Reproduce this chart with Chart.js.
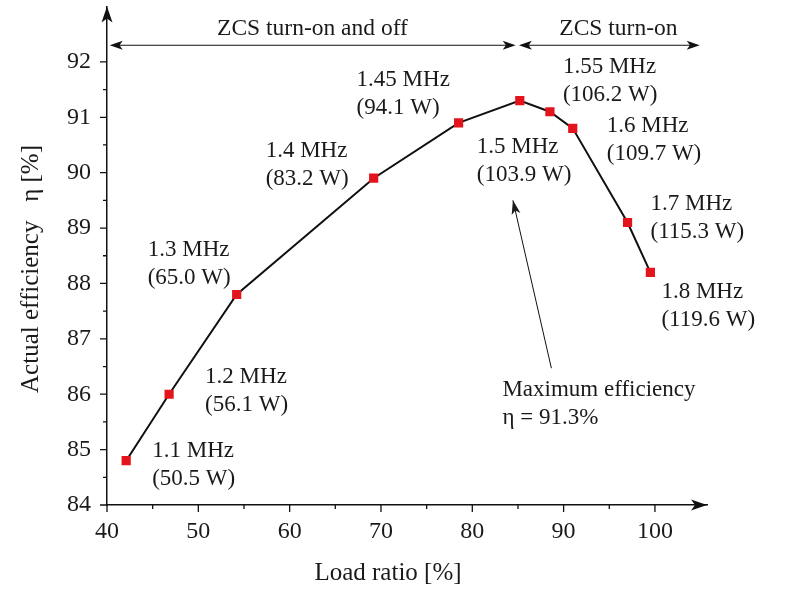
<!DOCTYPE html>
<html>
<head>
<meta charset="utf-8">
<script src="https://cdn.jsdelivr.net/npm/chart.js@4.4.1/dist/chart.umd.min.js"></script>
<style>
  html, body { margin: 0; padding: 0; background: #fff; }
  #wrap { width: 800px; height: 590px; }
</style>
</head>
<body>
<div id="wrap"><canvas id="effChart" width="800" height="590"></canvas></div>
<script>
// values
const loadRatio  = [42.1, 46.8, 54.2, 69.2, 78.5, 85.2, 88.5, 91.0, 97.0, 99.5];
const efficiency = [84.8, 86.0, 87.8, 89.9, 90.9, 91.3, 91.1, 90.8, 89.1, 88.2];
const freqLabels  = ["1.1 MHz", "1.2 MHz", "1.3 MHz", "1.4 MHz", "1.45 MHz", "1.5 MHz", "1.55 MHz", "1.6 MHz", "1.7 MHz", "1.8 MHz"];
const powerLabels = ["(50.5 W)", "(56.1 W)", "(65.0 W)", "(83.2 W)", "(94.1 W)", "(103.9 W)", "(106.2 W)", "(109.7 W)", "(115.3 W)", "(119.6 W)"];
const xTicks = [40, 50, 60, 70, 80, 90, 100];
const yTicks = [84, 85, 86, 87, 88, 89, 90, 91, 92];

// ZCS regions along the top
const zoneNames = ["ZCS turn-on and off", "ZCS turn-on"];
const zoneFrom  = [40.3, 85.1];
const zoneTo    = [84.75, 104.9];
const zoneTextX = [62.5, 96.0];

const maxEffText = ["Maximum efficiency", "\u03b7 = 91.3%"];

const FONT = "'Liberation Serif', 'DejaVu Serif', serif";
const RED = "#e3141b";

// where each point label sits, relative to its marker (px)
const labelOffsets = [[26, -10], [36, -17], [-89, -45], [-108, -27], [-102, -43],
                      [-43, 46], [13, -45], [34, -2], [23, -19], [11, 20]];

function arrowHead(ctx, tipX, tipY, angle, len, half) {
  ctx.save();
  ctx.translate(tipX, tipY);
  ctx.rotate(angle);
  ctx.beginPath();
  ctx.moveTo(0, 0);
  ctx.lineTo(-len, -half);
  ctx.lineTo(-len * 0.75, 0);
  ctx.lineTo(-len, half);
  ctx.closePath();
  ctx.fill();
  ctx.restore();
}

// no extra room around the scales: the layout padding already sets the plot box
function noScalePadding(scale) {
  scale.paddingTop = 0;
  scale.paddingBottom = 0;
  scale.paddingLeft = 0;
  scale.paddingRight = 0;
}

const decorPlugin = {
  id: "decor",
  afterDraw(chart) {
    const { ctx, chartArea: area, scales: { x, y } } = chart;
    ctx.save();
    ctx.strokeStyle = "#111";
    ctx.fillStyle = "#111";
    ctx.lineWidth = 1.3;

    // tick marks (major + minor) pointing outward
    ctx.beginPath();
    xTicks.forEach((v, i) => {
      const px = x.getPixelForValue(v);
      ctx.moveTo(px, area.bottom); ctx.lineTo(px, area.bottom + 7);
      if (i < xTicks.length - 1) {
        const mx = x.getPixelForValue((v + xTicks[i + 1]) / 2);
        ctx.moveTo(mx, area.bottom); ctx.lineTo(mx, area.bottom + 4);
      }
    });
    yTicks.forEach((v, i) => {
      const py = y.getPixelForValue(v);
      ctx.moveTo(area.left, py); ctx.lineTo(area.left - 7, py);
      if (i < yTicks.length - 1) {
        const my = y.getPixelForValue((v + yTicks[i + 1]) / 2);
        ctx.moveTo(area.left, my); ctx.lineTo(area.left - 4, my);
      }
    });
    ctx.stroke();

    // axis arrows
    arrowHead(ctx, area.left, area.top, -Math.PI / 2, 16, 5.5);
    arrowHead(ctx, area.right, area.bottom, 0, 16, 5.5);

    // ZCS region arrows
    const zy = y.getPixelForValue(92.3);
    ctx.lineWidth = 1.2;
    zoneNames.forEach((name, i) => {
      const a = x.getPixelForValue(zoneFrom[i]);
      const b = x.getPixelForValue(zoneTo[i]);
      ctx.beginPath();
      ctx.moveTo(a + 4, zy); ctx.lineTo(b - 4, zy);
      ctx.stroke();
      arrowHead(ctx, a, zy, Math.PI, 13, 4.5);
      arrowHead(ctx, b, zy, 0, 13, 4.5);
      ctx.font = "23.5px " + FONT;
      ctx.textAlign = "center";
      ctx.textBaseline = "middle";
      ctx.fillStyle = "#1a1a1a";
      ctx.fillText(name, x.getPixelForValue(zoneTextX[i]), y.getPixelForValue(92.6));
      ctx.fillStyle = "#111";
    });

    // point labels
    const meta = chart.getDatasetMeta(0);
    ctx.font = "23px " + FONT;
    ctx.textAlign = "left";
    ctx.textBaseline = "middle";
    ctx.fillStyle = "#1a1a1a";
    meta.data.forEach((pt, i) => {
      const lx = pt.x + labelOffsets[i][0];
      const ly = pt.y + labelOffsets[i][1];
      ctx.fillText(freqLabels[i], lx, ly);
      ctx.fillText(powerLabels[i], lx, ly + 28);
    });

    // maximum efficiency annotation
    const tipX = x.getPixelForValue(84.45), tipY = y.getPixelForValue(89.5);
    const tailX = x.getPixelForValue(88.66), tailY = y.getPixelForValue(86.47);
    ctx.lineWidth = 1;
    ctx.beginPath();
    ctx.moveTo(tailX, tailY);
    ctx.lineTo(tipX, tipY);
    ctx.stroke();
    arrowHead(ctx, tipX, tipY, Math.atan2(tipY - tailY, tipX - tailX), 14, 4.5);
    ctx.fillText(maxEffText[0], tailX - 49, tailY + 22);
    ctx.fillText(maxEffText[1], tailX - 49, tailY + 50);

    // axis titles
    ctx.font = "25px " + FONT;
    ctx.textAlign = "center";
    ctx.fillText("Load ratio [%]", 388, 573);
    ctx.save();
    ctx.translate(31, 269);
    ctx.rotate(-Math.PI / 2);
    ctx.fillText("Actual efficiency   \u03b7 [%]", 0, 0);
    ctx.restore();

    ctx.restore();
  }
};

const ctx = document.getElementById("effChart").getContext("2d");
new Chart(ctx, {
  type: "scatter",
  data: {
    datasets: [{
      data: loadRatio.map((v, i) => ({ x: v, y: efficiency[i] })),
      showLine: true,
      borderColor: "#111",
      borderWidth: 2,
      pointStyle: "rect",
      pointRadius: 6.5,
      pointHoverRadius: 6.5,
      pointBackgroundColor: RED,
      pointBorderColor: RED,
      pointBorderWidth: 0,
    }],
  },
  options: {
    responsive: false,
    animation: false,
    layout: { padding: { left: 0, right: 93, top: 6, bottom: 0 } },
    scales: {
      x: {
        type: "linear",
        min: 40,
        max: 105.7,
        afterBuildTicks: (scale) => { scale.ticks = xTicks.map(v => ({ value: v })); },
        afterFit: (scale) => { scale.height = 85; noScalePadding(scale); },
        grid: { display: false, drawTicks: false },
        border: { display: true, color: "#111", width: 1.5 },
        ticks: { padding: 12, color: "#1a1a1a", font: { family: FONT, size: 24 }, maxRotation: 0 },
      },
      y: {
        type: "linear",
        min: 84,
        max: 93,
        afterBuildTicks: (scale) => { scale.ticks = yTicks.map(v => ({ value: v })); },
        afterFit: (scale) => { scale.width = 107; noScalePadding(scale); },
        grid: { display: false, drawTicks: false },
        border: { display: true, color: "#111", width: 1.5 },
        ticks: { padding: 16, color: "#1a1a1a", font: { family: FONT, size: 24 } },
      },
    },
    plugins: {
      legend: { display: false },
      tooltip: { enabled: false },
    },
  },
  plugins: [decorPlugin],
});
</script>
</body>
</html>
